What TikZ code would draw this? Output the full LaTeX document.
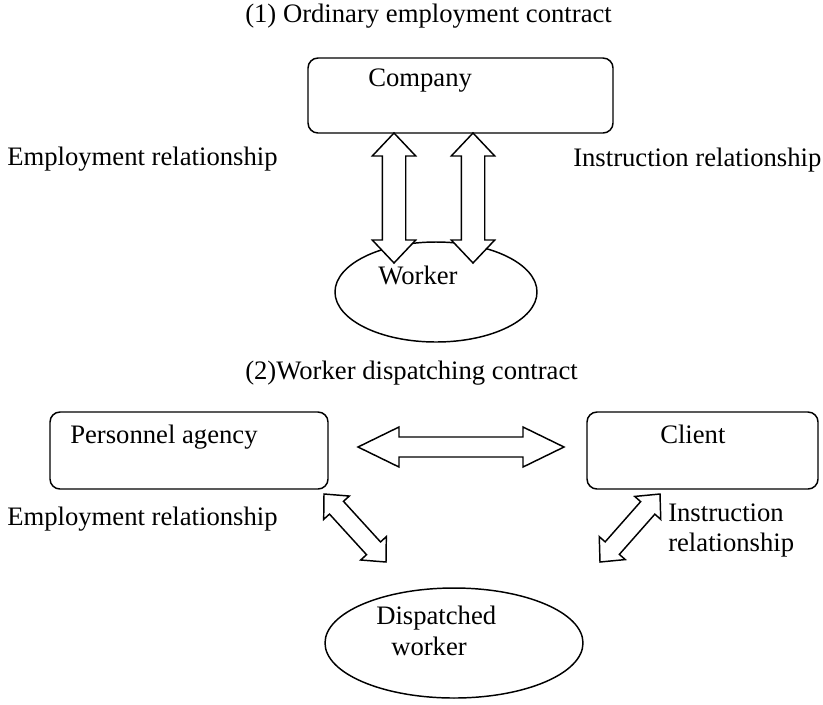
\documentclass[tikz,border=0pt]{standalone}
\usepackage{fontspec}
\setmainfont{Liberation Serif}
\usetikzlibrary{calc,shapes.geometric}
\newcommand\blockarrow[5]{% from, to, shaft half-width, head length, head half-width
  \path ($(#1)!#4!(#2)$) coordinate (baA) ($(#2)!#4!(#1)$) coordinate (baB);
  \draw[barrow] (#1) -- ($(baA)!#5!90:(#2)$) -- ($(baA)!#3!90:(#2)$)
    -- ($(baB)!#3!-90:(#1)$) -- ($(baB)!#5!-90:(#1)$) -- (#2)
    -- ($(baB)!#5!90:(#1)$) -- ($(baB)!#3!90:(#1)$)
    -- ($(baA)!#3!-90:(#2)$) -- ($(baA)!#5!-90:(#2)$) -- cycle;
}
\begin{document}
\begin{tikzpicture}[x=0.75pt,y=-0.75pt,
  font=\fontsize{20pt}{24pt}\selectfont,
  box/.style={draw, line width=1.1pt, rounded corners=7.5pt, inner sep=0pt},
  oval/.style={draw, ellipse, line width=1.1pt, inner sep=0pt},
  txt/.style={anchor=base west, inner sep=0pt},
  barrow/.style={draw, fill=white, line width=1.1pt, line join=miter}]
\useasboundingbox (0,0) rectangle (823,704);

% Part 1
\node[txt] (title1) at (245,22) {(1) Ordinary employment contract};
\node[box, minimum width=228.75pt, minimum height=56.25pt] (company) at (460.5,95.5) {};
\node[txt] (companylbl) at (368,86) {Company};
\node[oval, minimum width=151.5pt, minimum height=75pt] (worker) at (436,292) {};
\node[txt] (workerlbl) at (378,284) {Worker};
\node[txt] (emp1) at (7,165) {Employment relationship};
\node[txt] (ins1) at (573,166) {Instruction relationship};

\coordinate (v1t) at (394,133);
\coordinate (v1b) at (394,263);
\coordinate (v2t) at (473,133);
\coordinate (v2b) at (473,263);
\blockarrow{v1t}{v1b}{8.8pt}{17.25pt}{16.3pt}
\blockarrow{v2t}{v2b}{8.8pt}{17.25pt}{16.3pt}

% Part 2
\node[txt] (title2) at (245,379) {(2)Worker dispatching contract};
\node[box, minimum width=208.5pt, minimum height=57.75pt] (agency) at (189,450.5) {};
\node[txt] (agencylbl) at (70,443) {Personnel agency};
\node[box, minimum width=173.25pt, minimum height=57.75pt] (client) at (702.5,450.5) {};
\node[txt] (clientlbl) at (660,443) {Client};
\node[oval, minimum width=193.5pt, minimum height=82.5pt] (dispatched) at (454,643) {};
\node[txt] (displbl1) at (376,624) {Dispatched};
\node[txt] (displbl2) at (391,655) {worker};
\node[txt] (emp2) at (7,525) {Employment relationship};
\node[txt] (ins2a) at (668,521) {Instruction};
\node[txt] (ins2b) at (668,551) {relationship};

\coordinate (hl) at (358,447);
\coordinate (hr) at (564,447);
\blockarrow{hl}{hr}{7.5pt}{30.75pt}{15pt}

\coordinate (d1a) at (324,494);
\coordinate (d1b) at (386,562);
\blockarrow{d1a}{d1b}{7.1pt}{13.9pt}{13pt}
\coordinate (d2a) at (660,494);
\coordinate (d2b) at (600,562);
\blockarrow{d2a}{d2b}{7.1pt}{13.9pt}{13pt}
\end{tikzpicture}
\end{document}
